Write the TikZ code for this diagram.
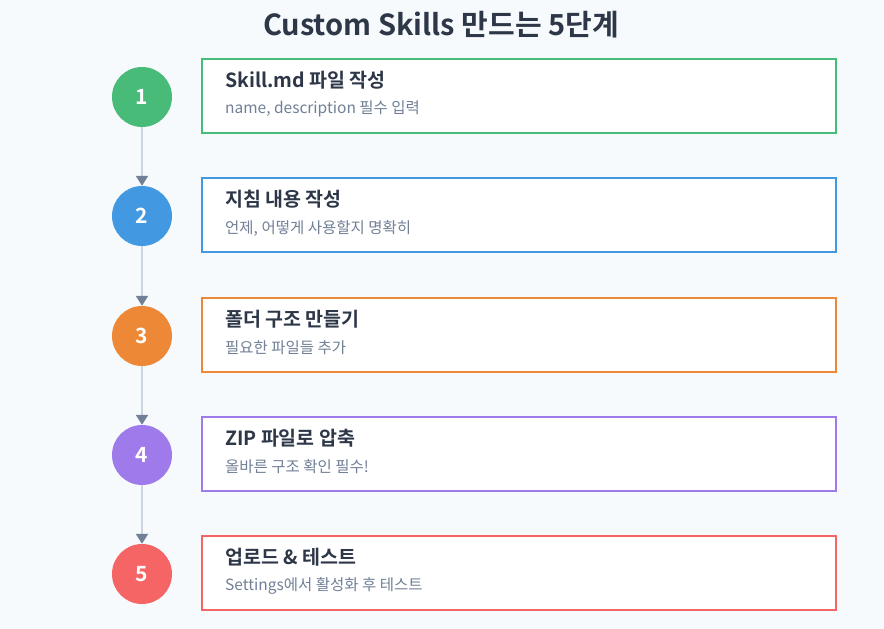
\documentclass[tikz,border=0pt]{standalone}
\usepackage{fontspec}
\setmainfont{Noto Sans CJK KR}[BoldFont={Noto Sans CJK KR Bold}]
\usetikzlibrary{arrows.meta}

\definecolor{bgcol}{HTML}{F7FAFC}
\definecolor{textdark}{HTML}{2D3748}
\definecolor{textgray}{HTML}{718096}
\definecolor{linegray}{HTML}{CBD5E0}
\definecolor{c1col}{HTML}{48BB78}
\definecolor{c2col}{HTML}{4299E1}
\definecolor{c3col}{HTML}{ED8936}
\definecolor{c4col}{HTML}{9F7AEA}
\definecolor{c5col}{HTML}{F56565}

\tikzset{
  num/.style={circle, minimum size=60pt, inner sep=0pt, fill=#1,
    text=white, font=\fontsize{21}{21}\selectfont\bfseries},
  stepbox/.style={draw=#1, line width=2pt, fill=white, rectangle,
    minimum width=634pt, minimum height=74pt, inner sep=0pt},
  steptitle/.style={anchor=west, inner sep=0pt, text=textdark,
    font=\fontsize{19.5}{19.5}\selectfont\bfseries},
  stepsub/.style={anchor=west, inner sep=0pt, text=textgray,
    font=\fontsize{15.5}{15.5}\selectfont},
  link/.style={draw=linegray, line width=2pt,
    -{Triangle[color=textgray, width=12pt, length=10pt]}}
}

\begin{document}
\begin{tikzpicture}[x=1pt, y=-1pt]

  \useasboundingbox[fill=bgcol] (0,0) rectangle (884,629);

  \node[text=textdark, font=\fontsize{29}{29}\selectfont\bfseries] (head) at (441,25) {Custom Skills 만드는 5단계};

  \node[num=c1col] (c1) at (142,97)  {1};
  \node[num=c2col] (c2) at (142,216) {2};
  \node[num=c3col] (c3) at (142,336) {3};
  \node[num=c4col] (c4) at (142,455) {4};
  \node[num=c5col] (c5) at (142,574) {5};

  \node[stepbox=c1col] (b1) at (519,96)  {};
  \node[stepbox=c2col] (b2) at (519,215) {};
  \node[stepbox=c3col] (b3) at (519,335) {};
  \node[stepbox=c4col] (b4) at (519,454) {};
  \node[stepbox=c5col] (b5) at (519,573) {};

  \node[steptitle] (t1) at (225,80)  {Skill.md 파일 작성};
  \node[stepsub]   (s1) at (225,109) {name, description 필수 입력};
  \node[steptitle] (t2) at (225,199) {지침 내용 작성};
  \node[stepsub]   (s2) at (225,228) {언제, 어떻게 사용할지 명확히};
  \node[steptitle] (t3) at (225,319) {폴더 구조 만들기};
  \node[stepsub]   (s3) at (225,348) {필요한 파일들 추가};
  \node[steptitle] (t4) at (225,438) {ZIP 파일로 압축};
  \node[stepsub]   (s4) at (225,467) {올바른 구조 확인 필수!};
  \node[steptitle] (t5) at (225,557) {업로드 \& 테스트};
  \node[stepsub]   (s5) at (225,586) {Settings에서 활성화 후 테스트};

  % Arrows
  \draw[link] (c1) -- (c2);
  \draw[link] (c2) -- (c3);
  \draw[link] (c3) -- (c4);
  \draw[link] (c4) -- (c5);

\end{tikzpicture}
\end{document}
